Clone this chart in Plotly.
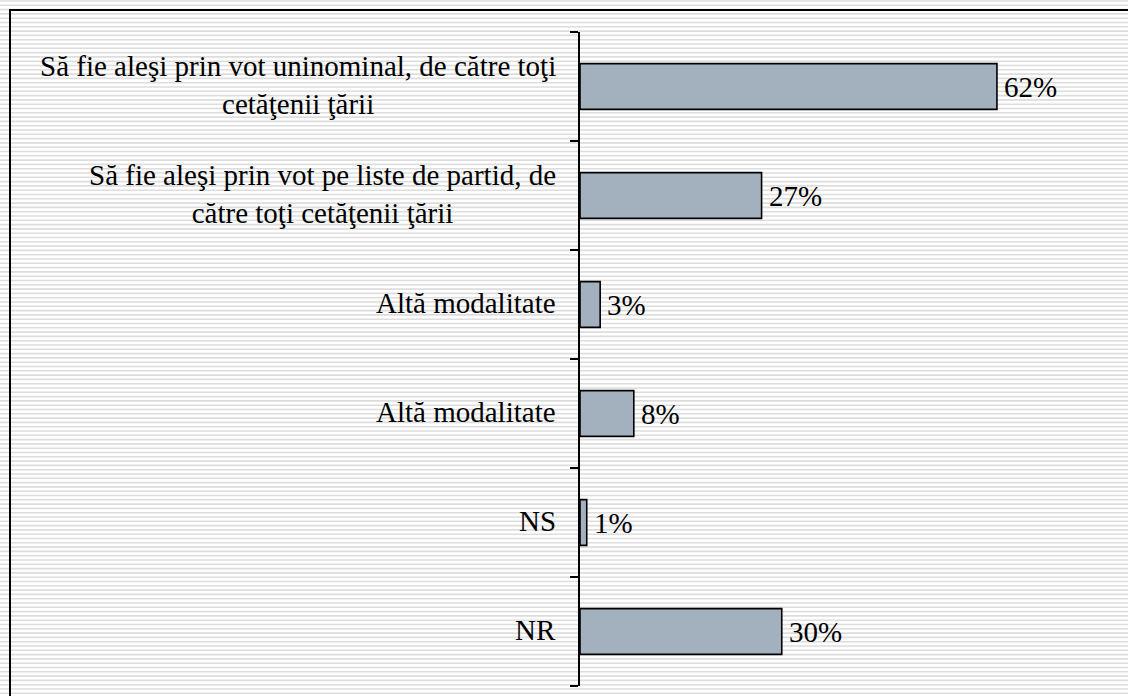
import plotly.graph_objects as go

categories = [
    "Să fie aleşi prin vot uninominal, de către toţi<br>cetăţenii ţării",
    "Să fie aleşi prin vot pe liste de partid, de<br>către toţi cetăţenii ţării",
    "Altă modalitate",
    "Altă modalitate",
    "NS",
    "NR",
]
values = [62, 27, 3, 8, 1, 30]
value_labels = [f"{v}%" for v in values]

FONT = "Liberation Serif"
FS = 29
W, H = 1128, 696
ML, MR, MT, MB = 580, 10, 32, 10
pw = W - ML - MR
ph = H - MT - MB

pos = list(range(len(categories)))

fig = go.Figure()
fig.add_trace(go.Bar(
    x=values, y=pos, orientation="h", width=0.42,
    marker=dict(color="#A3B1BF", line=dict(color="black", width=1.6)),
    hoverinfo="skip",
))

annotations = []
for i, (c, v, t) in enumerate(zip(categories, values, value_labels)):
    annotations.append(dict(x=0, y=i, xref="x", yref="y", text=c, showarrow=False,
                            xanchor="right", yanchor="middle", align="center", xshift=-22,
                            yshift=2,
                            font=dict(family=FONT, size=FS, color="black")))
    annotations.append(dict(x=v, y=i, xref="x", yref="y", text=t, showarrow=False,
                            xanchor="left", yanchor="middle", xshift=5,
                            font=dict(family=FONT, size=FS, color="black")))

shapes = []
# striped background
py = 1.0
while py < H:
    yp = (H - MB - py) / ph
    shapes.append(dict(type="line", xref="paper", yref="paper",
                       x0=-ML / pw - 0.05, x1=1 + MR / pw + 0.05, y0=yp, y1=yp,
                       line=dict(color="#dddddd", width=1.6), layer="below"))
    py += 4.3
# border
shapes.append(dict(type="rect", xref="paper", yref="paper",
                   x0=(10 - ML) / pw, x1=1 + (MR + 5) / pw,
                   y0=-(MB + 5) / ph, y1=1 + (MT - 10) / ph,
                   line=dict(color="black", width=2), layer="above"))

fig.update_layout(
    width=W, height=H,
    margin=dict(l=ML, r=MR, t=MT, b=MB),
    paper_bgcolor="white", plot_bgcolor="rgba(0,0,0,0)",
    showlegend=False,
    font=dict(family=FONT, size=FS, color="black"),
    annotations=annotations, shapes=shapes,
    xaxis=dict(range=[0, 80], visible=False, fixedrange=True),
    yaxis=dict(range=[len(categories) - 0.5, -0.5], showgrid=False, zeroline=False,
               showline=True, linecolor="black", linewidth=2,
               ticks="outside", ticklen=8, tickwidth=1.5, tickcolor="black",
               tickvals=[i - 0.5 for i in range(len(categories) + 1)],
               showticklabels=False, fixedrange=True),
)

fig.write_html("out.html", config={"displayModeBar": False},
               post_script="document.body.style.margin='0';document.body.style.overflow='hidden';")
